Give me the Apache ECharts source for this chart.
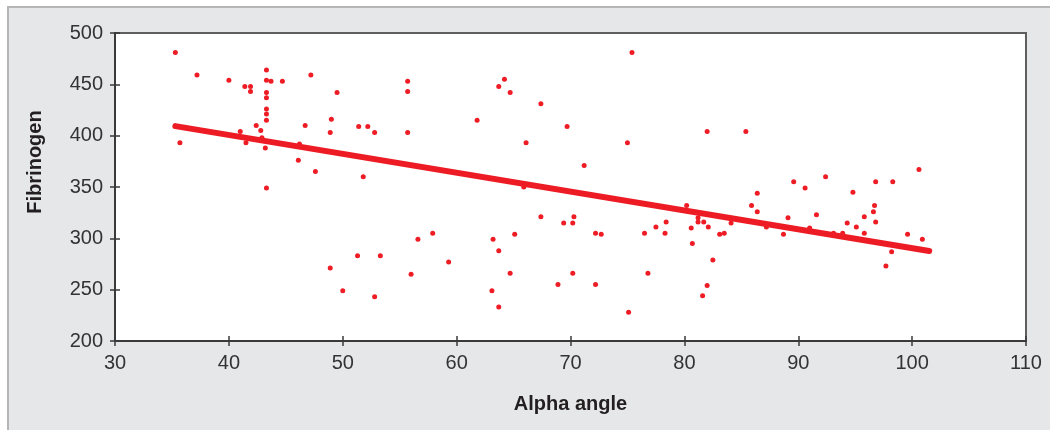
<!DOCTYPE html>
<html>
<head>
<meta charset="utf-8">
<script src="https://cdn.jsdelivr.net/npm/echarts@6/dist/echarts.min.js"></script>
<style>
  body { margin: 0; background: #fff; }
  #frame {
    position: absolute; left: 7px; top: 6px; right: 0; bottom: 0;
    background: #e6e7e8;
    border-top: 2px solid #b4b5b7;
    border-left: 2px solid #b4b5b7;
  }
  #main { position: absolute; left: 0; top: 0; width: 1050px; height: 430px; }
</style>
</head>
<body>
<div id="frame"></div>
<div id="main"></div>
<script>
// points
const alphaAngle = [
  35.3, 37.2, 40.0, 41.4, 41.9, 41.9, 43.3, 43.3, 43.7, 44.7, 43.3, 43.3, 43.3, 43.3, 43.3, 47.2,
  49.5, 42.4, 41.0, 42.8, 42.9, 41.5, 43.2, 35.7, 46.7, 49.0, 48.9, 46.2, 46.1, 47.6, 43.3,
  48.9, 50.0,
  51.4, 52.2, 52.8, 51.8, 55.7, 55.7, 55.7, 61.8, 63.7, 64.2, 64.7, 67.4, 69.7, 66.1, 71.2, 65.9,
  51.3, 53.3, 52.8, 56.0, 56.6, 57.9, 59.3, 63.2, 63.7, 63.1, 63.7, 65.1, 64.7, 67.4, 69.4, 70.2,
  70.3, 70.2, 68.9,
  75.4, 75.0, 82.0, 85.4, 89.6, 90.6, 92.4, 86.4,
  72.2, 72.7, 72.2, 75.1, 76.5, 76.8, 77.5, 78.3, 78.4, 80.2, 80.6, 80.7, 81.2, 81.2, 81.7, 82.1,
  82.5, 82.0, 81.6, 83.1, 83.5, 84.1, 85.9, 86.4, 87.2, 88.7, 89.1, 91.0, 91.6,
  94.8, 96.8, 98.3, 100.6,
  93.1, 93.9, 94.3, 95.1, 95.8, 95.8, 96.6, 96.7, 96.8, 98.2, 97.7, 99.6, 100.9
];
const fibrinogen = [
  481, 459, 454, 448, 448, 443, 464, 454, 453, 453, 442, 437, 426, 421, 415, 459,
  442, 410, 404, 405, 398, 393, 388, 393, 410, 416, 403, 392, 376, 365, 349,
  271, 249,
  409, 409, 403, 360, 453, 443, 403, 415, 448, 455, 442, 431, 409, 393, 371, 350,
  283, 283, 243, 265, 299, 305, 277, 299, 288, 249, 233, 304, 266, 321, 315, 315,
  321, 266, 255,
  481, 393, 404, 404, 355, 349, 360, 344,
  305, 304, 255, 228, 305, 266, 311, 305, 316, 332, 310, 295, 320, 316, 316, 311,
  279, 254, 244, 304, 305, 315, 332, 326, 311, 304, 320, 310, 323,
  345, 355, 355, 367,
  305, 305, 315, 311, 321, 305, 326, 332, 316, 287, 273, 304, 299
];
// regression line end points
const fitX = [35.3, 101.5];
const fitY = [409.3, 287.6];

const points = alphaAngle.map((a, i) => [a, fibrinogen[i]]);
const fitLine = fitX.map((a, i) => [a, fitY[i]]);

const labelFont = { fontFamily: "Liberation Sans", fontSize: 20, color: "#333" };

const xBase = { type: "value", min: 30, max: 110, interval: 10, gridIndex: 0, position: "bottom" };
const yBase = { type: "value", min: 200, max: 500, interval: 50, gridIndex: 0, position: "left" };

let myChart = echarts.init(document.getElementById("main"));
myChart.setOption({
  animation: false,
  grid: {
    left: 115, right: 24, top: 33, bottom: 89,
    show: true, backgroundColor: "#fff", borderColor: "#5f5f5f", borderWidth: 2
  },
  xAxis: [
    Object.assign({}, xBase, {
      name: "Alpha angle",
      nameLocation: "middle",
      nameGap: 53,
      nameTextStyle: { fontFamily: "Liberation Sans", fontSize: 20, fontWeight: "bold", color: "#231f20" },
      axisLine: { lineStyle: { color: "#3a3a3a", width: 2 } },
      axisTick: { length: 5, lineStyle: { color: "#3a3a3a", width: 1.5 } },
      axisLabel: Object.assign({ margin: 12 }, labelFont),
      splitLine: { show: false }
    }),
    Object.assign({}, xBase, {
      axisLine: { show: false },
      axisTick: { inside: true, length: 5, lineStyle: { color: "#3a3a3a", width: 1.5 } },
      axisLabel: { show: false },
      splitLine: { show: false }
    })
  ],
  yAxis: [
    Object.assign({}, yBase, {
      axisLine: { show: true, lineStyle: { color: "#3a3a3a", width: 2 } },
      axisTick: { show: true, length: 5, lineStyle: { color: "#3a3a3a", width: 1.5 } },
      axisLabel: Object.assign({ margin: 12 }, labelFont),
      splitLine: { show: false }
    }),
    Object.assign({}, yBase, {
      axisLine: { show: false },
      axisTick: { show: true, inside: true, length: 5, lineStyle: { color: "#3a3a3a", width: 1.5 } },
      axisLabel: { show: false },
      splitLine: { show: false }
    })
  ],
  graphic: [
    {
      type: "text",
      x: 35, y: 162,
      rotation: Math.PI / 2,
      style: {
        text: "Fibrinogen",
        fontFamily: "Liberation Sans", fontSize: 20, fontWeight: "bold",
        fill: "#231f20", align: "center", verticalAlign: "middle"
      }
    }
  ],
  series: [
    {
      type: "line",
      data: fitLine,
      symbol: "none",
      lineStyle: { color: "#ed1c24", width: 6, cap: "round" },
      z: 2
    },
    {
      type: "scatter",
      data: points,
      symbolSize: 5,
      itemStyle: { color: "#ee1c25", opacity: 1 },
      z: 3
    }
  ]
});
</script>
</body>
</html>
